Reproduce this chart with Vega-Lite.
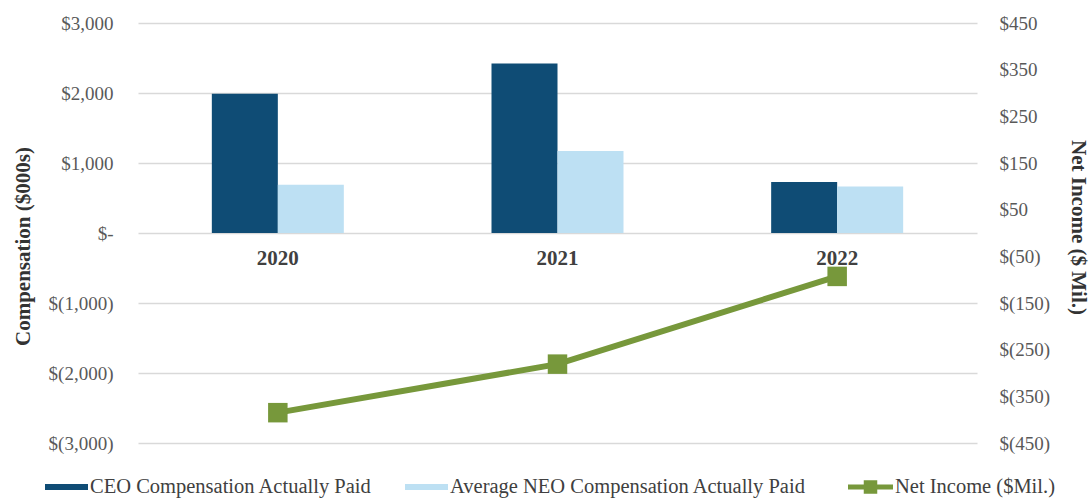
{
  "$schema": "https://vega.github.io/schema/vega-lite/v6.json",
  "width": 839,
  "height": 420,
  "autosize": {"type": "none"},
  "padding": {"left": 138, "top": 23, "right": 113, "bottom": 57},
  "background": "white",
  "config": {
    "view": {"stroke": null},
    "font": "Liberation Serif",
    "axis": {"labelFont": "Liberation Serif", "titleFont": "Liberation Serif"},
    "legend": {"labelFont": "Liberation Serif", "padding": 0}
  },
  "layer": [
    {
      "data": {
        "values": [
          {"year": "2020", "series": "CEO Compensation Actually Paid", "value": 1990},
          {"year": "2020", "series": "Average NEO Compensation Actually Paid", "value": 690},
          {"year": "2021", "series": "CEO Compensation Actually Paid", "value": 2420},
          {"year": "2021", "series": "Average NEO Compensation Actually Paid", "value": 1170},
          {"year": "2022", "series": "CEO Compensation Actually Paid", "value": 730},
          {"year": "2022", "series": "Average NEO Compensation Actually Paid", "value": 665}
        ]
      },
      "mark": {"type": "bar"},
      "encoding": {
        "x": {
          "field": "year",
          "type": "nominal",
          "scale": {"paddingInner": 0.528, "paddingOuter": 0.264},
          "axis": {
            "offset": -210,
            "domain": false,
            "ticks": false,
            "grid": false,
            "title": null,
            "labelAngle": 0,
            "labelFont": "Liberation Serif",
            "labelFontSize": 21,
            "labelFontWeight": "bold",
            "labelColor": "#404040",
            "labelPadding": 14
          }
        },
        "xOffset": {
          "field": "series",
          "type": "nominal",
          "sort": ["CEO Compensation Actually Paid", "Average NEO Compensation Actually Paid"]
        },
        "y": {
          "field": "value",
          "type": "quantitative",
          "scale": {"domain": [-3000, 3000], "nice": false},
          "axis": {
            "values": [-3000, -2000, -1000, 0, 1000, 2000, 3000],
            "labelExpr": "datum.value == 0 ? '$-\u00a0\u00a0' : (datum.value < 0 ? '$(' + format(-datum.value, ',') + ')' : '$' + format(datum.value, ',') + '\u00a0')",
            "domain": false,
            "ticks": false,
            "grid": true,
            "gridColor": "#d9d9d9",
            "gridWidth": 1.6,
            "labelFont": "Liberation Serif",
            "labelFontSize": 19,
            "labelColor": "#595959",
            "labelPadding": 25,
            "title": "Compensation ($000s)",
            "titleFont": "Liberation Serif",
            "titleFontSize": 21,
            "titleFontWeight": "bold",
            "titleColor": "#333333",
            "titleX": -105,
            "titleY": 223
          }
        },
        "color": {
          "field": "series",
          "type": "nominal",
          "sort": ["CEO Compensation Actually Paid", "Average NEO Compensation Actually Paid"],
          "scale": {
            "domain": ["CEO Compensation Actually Paid", "Average NEO Compensation Actually Paid"],
            "range": ["#0f4c75", "#bde0f3"]
          },
          "legend": {
            "orient": "none",
            "legendX": -93,
            "legendY": 442.5,
            "direction": "horizontal",
            "title": null,
            "symbolType": "M-1,-0.14H1V0.14H-1Z",
            "symbolSize": 1849,
            "symbolStrokeWidth": 0,
            "labelFont": "Liberation Serif",
            "labelFontSize": 20.5,
            "labelColor": "#404040",
            "labelOffset": 2,
            "labelLimit": 0,
            "columnPadding": 33
          }
        }
      }
    },
    {
      "data": {
        "values": [
          {"year": "2020", "label": "Net Income ($Mil.)", "net": -385},
          {"year": "2021", "label": "Net Income ($Mil.)", "net": -281},
          {"year": "2022", "label": "Net Income ($Mil.)", "net": -93}
        ]
      },
      "layer": [
        {
          "mark": {"type": "line", "strokeWidth": 6},
          "encoding": {
            "x": {"field": "year", "type": "nominal"},
            "y": {
              "field": "net",
              "type": "quantitative",
              "scale": {"domain": [-450, 450], "nice": false},
              "axis": {
                "orient": "right",
                "values": [450, 350, 250, 150, 50, -50, -150, -250, -350, -450],
                "labelExpr": "datum.value < 0 ? '$(' + (-datum.value) + ')' : '$' + datum.value",
                "domain": false,
                "ticks": false,
                "grid": false,
                "labelFont": "Liberation Serif",
                "labelFontSize": 19,
                "labelColor": "#595959",
                "labelPadding": 22,
                "title": "Net Income ($ Mil.)",
                "titleFont": "Liberation Serif",
                "titleFontSize": 21,
                "titleFontWeight": "bold",
                "titleColor": "#333333",
                "titleX": 90,
                "titleY": 204
              }
            },
            "stroke": {
              "field": "label",
              "type": "nominal",
              "scale": {"domain": ["Net Income ($Mil.)"], "range": ["#77983b"]},
              "legend": {
                "orient": "none",
                "legendX": 710,
                "legendY": 441.5,
                "title": null,
                "symbolType": "M-1,-0.11H1V0.11H-1Z M-0.3,-0.3H0.3V0.3H-0.3Z",
                "symbolSize": 2025,
                "symbolStrokeWidth": 0,
                "symbolFillColor": "#77983b",
                "labelFont": "Liberation Serif",
                "labelFontSize": 20.5,
                "labelColor": "#404040",
                "labelOffset": 2,
                "labelLimit": 0,
                "encode": {"symbols": {"update": {"fill": {"value": "#77983b"}, "strokeWidth": {"value": 0}}}}
              }
            }
          }
        },
        {
          "mark": {"type": "point", "shape": "square", "filled": true, "size": 380, "color": "#77983b", "opacity": 1},
          "encoding": {
            "x": {"field": "year", "type": "nominal"},
            "y": {"field": "net", "type": "quantitative"}
          }
        }
      ]
    }
  ],
  "resolve": {"scale": {"y": "independent"}}
}
